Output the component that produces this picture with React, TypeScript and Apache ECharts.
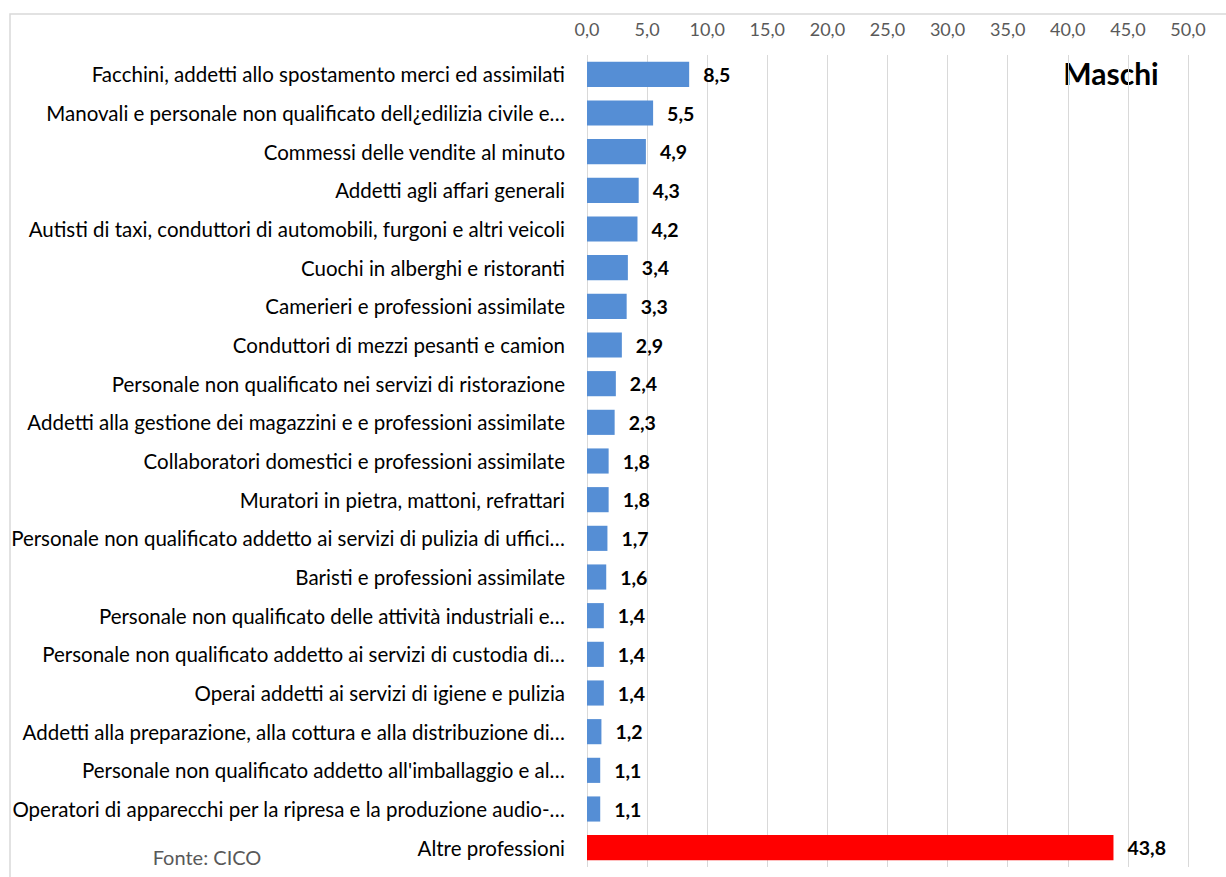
import React, { useEffect, useRef } from "react";
import * as echarts from "echarts";

const categories = [
  "Facchini, addetti allo spostamento merci ed assimilati",
  "Manovali e personale non qualificato dell¿edilizia civile e…",
  "Commessi delle vendite al minuto",
  "Addetti agli affari generali",
  "Autisti di taxi, conduttori di automobili, furgoni e altri veicoli",
  "Cuochi in alberghi e ristoranti",
  "Camerieri e professioni assimilate",
  "Conduttori di mezzi pesanti e camion",
  "Personale non qualificato nei servizi di ristorazione",
  "Addetti alla gestione dei magazzini e e professioni assimilate",
  "Collaboratori domestici e professioni assimilate",
  "Muratori in pietra, mattoni, refrattari",
  "Personale non qualificato addetto ai servizi di pulizia di uffici…",
  "Baristi e professioni assimilate",
  "Personale non qualificato delle attività industriali e…",
  "Personale non qualificato addetto ai servizi di custodia di…",
  "Operai addetti ai servizi di igiene e pulizia",
  "Addetti alla preparazione, alla cottura e alla distribuzione di…",
  "Personale non qualificato addetto all'imballaggio e al…",
  "Operatori di apparecchi per la ripresa e la produzione audio-…",
  "Altre professioni",
];

const values = [8.5, 5.5, 4.9, 4.3, 4.2, 3.4, 3.3, 2.9, 2.4, 2.3, 1.8, 1.8, 1.7, 1.6, 1.4, 1.4, 1.4, 1.2, 1.1, 1.1, 43.8];

const highlightCategory = "Altre professioni";
const title = "Maschi";
const source = "Fonte: CICO";

const fmt = (v: number) => v.toFixed(1).replace(".", ",");

export default function App() {
  const ref = useRef<HTMLDivElement>(null);
  useEffect(() => {
    if (!ref.current) return;
    const chart = echarts.init(ref.current, null, { renderer: "svg" });
    const font = "Lato, sans-serif";
    chart.setOption({
      animation: false,
      backgroundColor: "#ffffff",
      textStyle: { fontFamily: font },
      grid: {
        left: 587,
        right: 38,
        top: 55,
        bottom: 10,
        containLabel: false,
        outerBoundsMode: "none",
      },
      xAxis: {
        type: "value",
        position: "top",
        min: 0,
        max: 50,
        interval: 5,
        axisLine: { show: false },
        axisTick: { show: false },
        axisLabel: {
          formatter: (v: number) => fmt(v),
          color: "#595959",
          fontSize: 18,
          fontFamily: font,
          margin: 17,
        },
        splitLine: { show: true, lineStyle: { color: "#d9d9d9", width: 1 } },
      },
      yAxis: {
        type: "category",
        data: categories,
        inverse: true,
        axisLine: { show: false },
        axisTick: { show: false },
        axisLabel: { color: "#000000", fontSize: 20.5, fontFamily: font, margin: 22 },
      },
      series: [
        {
          type: "bar",
          data: categories.map((c, i) => ({
            value: values[i],
            itemStyle: { color: c === highlightCategory ? "#ff0000" : "#558ed5" },
          })),
          barCategoryGap: "35%",
          label: {
            show: true,
            position: "right",
            distance: 14,
            formatter: (p: any) => fmt(p.value),
            color: "#000000",
            fontWeight: "bold",
            fontSize: 19.5,
            fontFamily: font,
          },
        },
      ],
      graphic: [
        {
          type: "rect",
          shape: { x: 10, y: 14, width: 1300, height: 1000 },
          style: { fill: "none", stroke: "#d9d9d9", lineWidth: 1.5 },
          silent: true,
        },
        {
          type: "text",
          x: 1111,
          y: 73,
          style: {
            text: title,
            font: `bold 30px ${font}`,
            fill: "#000000",
            textAlign: "center",
            textVerticalAlign: "middle",
          },
        },
        {
          type: "text",
          x: 207,
          y: 857,
          style: {
            text: source,
            font: `20px ${font}`,
            fill: "#595959",
            textAlign: "center",
            textVerticalAlign: "middle",
          },
        },
      ],
    });
    return () => chart.dispose();
  }, []);
  return (
    <div
      ref={ref}
      style={{ position: "absolute", left: 0, top: 0, width: 1226, height: 877 }}
    />
  );
}
